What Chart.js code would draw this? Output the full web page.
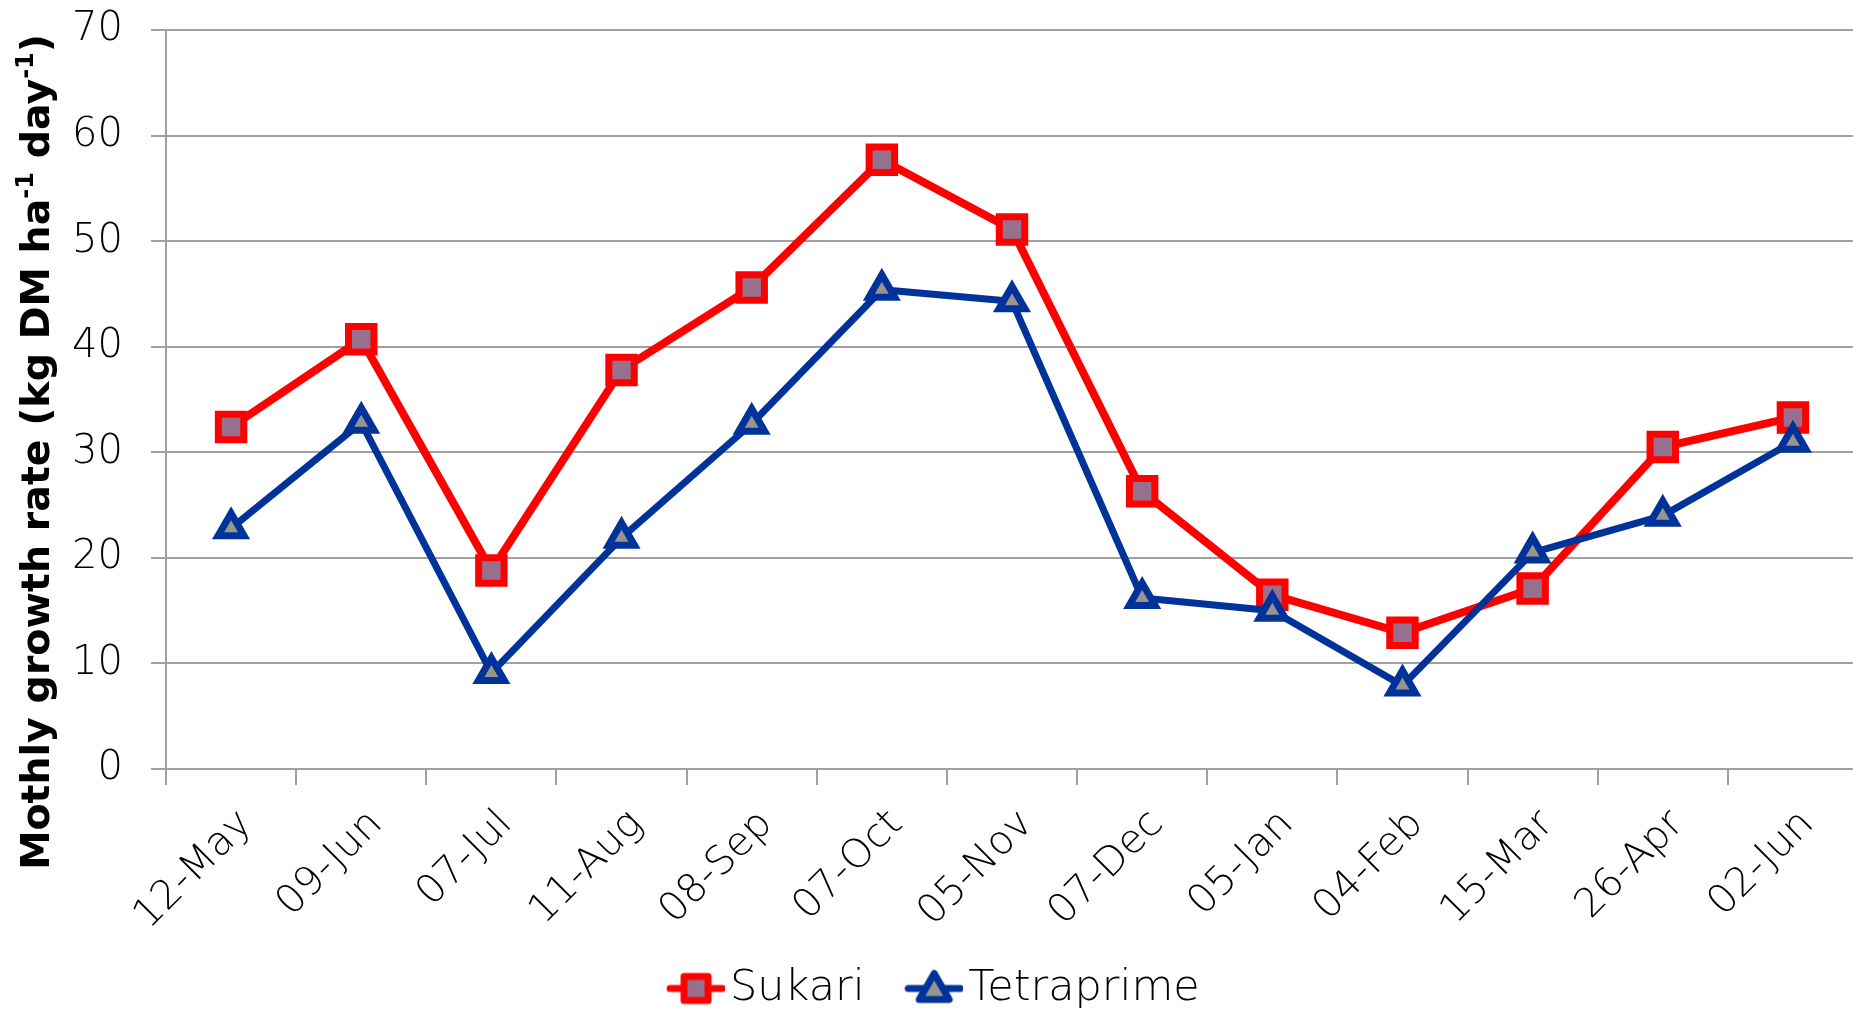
<!DOCTYPE html>
<html>
<head>
<meta charset="utf-8">
<script src="https://cdn.jsdelivr.net/npm/chart.js@4.4.0/dist/chart.umd.min.js"></script>
<style>
  html, body { margin: 0; padding: 0; background: #fff; overflow: hidden; }
  #wrap { width: 1883px; height: 1020px; }
</style>
</head>
<body>
<div id="wrap"><canvas id="growth-chart"></canvas></div>
<script>
// Дані
const dates = ["12-May","09-Jun","07-Jul","11-Aug","08-Sep","07-Oct","05-Nov",
               "07-Dec","05-Jan","04-Feb","15-Mar","26-Apr","02-Jun"];
const sukari     = [32.4, 40.7, 18.8, 37.8, 45.6, 57.7, 51.1, 26.3, 16.5, 12.9, 17.1, 30.5, 33.3];
const tetraprime = [22.8, 32.8,  9.1, 21.9, 32.7, 45.4, 44.3, 16.2, 15.0,  7.9, 20.5, 24.0, 31.0];
const yTicks = [0, 10, 20, 30, 40, 50, 60, 70];

const TICK_FONT = "'DejaVu Sans', sans-serif";
const GRID = "#a0a0a0";

// Значок легенди: лінія + маркер (притиснуті до правого краю полотна)
function legendIcon(kind, lineColor, fill) {
  const c = document.createElement("canvas");
  c.width = 74; c.height = 40;
  const g = c.getContext("2d");
  g.translate(74 - 58, 0);
  g.strokeStyle = lineColor;
  g.lineCap = "round";
  g.lineWidth = 7;
  g.beginPath(); g.moveTo(3, 20); g.lineTo(55, 20); g.stroke();
  g.fillStyle = fill;
  g.lineJoin = "round";
  g.lineWidth = 7;
  if (kind === "rect") {
    g.beginPath(); g.rect(17, 8, 24, 24); g.fill(); g.stroke();
  } else {
    g.beginPath(); g.moveTo(29, 5); g.lineTo(44, 31); g.lineTo(14, 31); g.closePath();
    g.fill(); g.stroke();
  }
  return c;
}

// Заголовок осі Y з верхніми індексами
const yTitle = {
  id: "yTitle",
  afterDraw(chart) {
    const ctx = chart.ctx;
    const parts = [["Mothly growth rate (kg DM ha", 0], ["-1", 1], [" day", 0], ["-1", 1], [")", 0]];
    const big = 39.5, small = 24;
    const fnt = (s) => "bold " + (s ? small : big) + "px 'DejaVu Sans', sans-serif";
    let total = 0;
    parts.forEach(p => { ctx.font = fnt(p[1]); total += ctx.measureText(p[0]).width; });
    ctx.save();
    ctx.translate(49, 452);
    ctx.rotate(-Math.PI / 2);
    ctx.fillStyle = "#000";
    ctx.textBaseline = "alphabetic";
    let x = -total / 2;
    parts.forEach(p => {
      ctx.font = fnt(p[1]);
      ctx.fillText(p[0], x, p[1] ? -16 : 0);
      x += ctx.measureText(p[0]).width;
    });
    ctx.restore();
  }
};

const chart = new Chart(document.getElementById("growth-chart"), {
  type: "line",
  data: {
    labels: dates,
    datasets: [
      {
        label: "Sukari",
        data: sukari,
        borderColor: "#ff0000",
        borderWidth: 8,
        pointStyle: "rect",
        pointRadius: 18,
        pointBorderWidth: 7,
        pointBackgroundColor: "#96708c",
        pointBorderColor: "#ff0000",
        tension: 0,
        order: 1
      },
      {
        label: "Tetraprime",
        data: tetraprime,
        borderColor: "#003399",
        borderWidth: 7,
        pointStyle: "triangle",
        pointRadius: 15,
        pointBorderWidth: 7,
        pointBackgroundColor: "#9a948f",
        pointBorderColor: "#003399",
        tension: 0,
        order: 0
      }
    ]
  },
  options: {
    responsive: true,
    maintainAspectRatio: false,
    animation: false,
    layout: { padding: { top: 0, right: 2, left: 0, bottom: 0 } },
    plugins: {
      tooltip: { enabled: false },
      legend: {
        position: "bottom",
        labels: {
          usePointStyle: true,
          pointStyleWidth: 41,
          boxHeight: 40,
          padding: 0,
          color: "#000",
          font: { family: TICK_FONT, size: 43, weight: 300 },
          generateLabels: () => [
            { text: "Sukari   ", pointStyle: legendIcon("rect", "#ff0000", "#96708c"), datasetIndex: 0, lineWidth: 0, fillStyle: "#fff", strokeStyle: "#fff" },
            { text: "Tetraprime ", pointStyle: legendIcon("tri", "#003399", "#9a948f"), datasetIndex: 1, lineWidth: 0, fillStyle: "#fff", strokeStyle: "#fff" }
          ]
        }
      }
    },
    scales: {
      x: {
        offset: true,
        grid: { offset: true, drawOnChartArea: false, drawTicks: true, tickLength: 16, color: GRID, lineWidth: 2 },
        border: { color: GRID, width: 2 },
        ticks: {
          color: "#000",
          minRotation: 45, maxRotation: 45,
          padding: 16,
          labelOffset: 15,
          font: { family: TICK_FONT, size: 40, weight: 300 }
        },
        afterFit: (s) => { s.height = 198; }
      },
      y: {
        min: 0, max: 70,
        afterBuildTicks: (s) => { s.ticks = yTicks.map(v => ({ value: v })); },
        grid: { color: GRID, lineWidth: 2, tickLength: 15 },
        border: { color: GRID, width: 2 },
        ticks: {
          color: "#000",
          padding: 28,
          font: { family: TICK_FONT, size: 40, weight: 300 }
        },
        afterFit: (s) => { s.width = 166; s.paddingTop = 30; }
      }
    }
  },
  plugins: [yTitle]
});
</script>
</body>
</html>
